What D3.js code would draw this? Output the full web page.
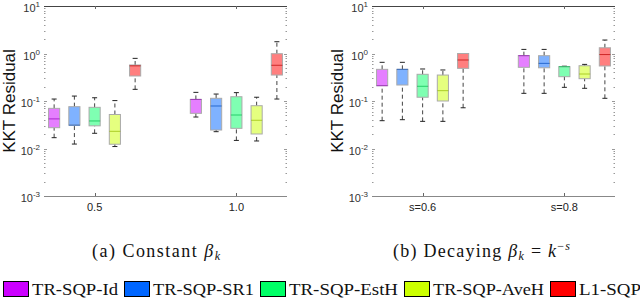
<!DOCTYPE html>
<html><head><meta charset="utf-8">
<script src="https://cdn.jsdelivr.net/npm/d3@7"></script>
<style>body{margin:0;background:#fff}svg{display:block}</style>
</head><body>
<svg id="c" width="640" height="300"></svg>
<script>
// ---------- data ----------
const methods = ["TR-SQP-Id", "TR-SQP-SR1", "TR-SQP-EstH", "TR-SQP-AveH", "L1-SQP"];
const colors = ["#cc00ff", "#0066ff", "#00ff66", "#ccff00", "#ff0000"];
const groupsA = ["0.5", "1.0"];
const groupsB = ["s=0.6", "s=0.8"];
const yTickExps = [1, 0, -1, -2, -3];
// each entry: [lower whisker, q1, median, q3, upper whisker]
const constBeta05 = [
  [0.0169, 0.0274, 0.042, 0.070, 0.110],
  [0.0124, 0.031, 0.031, 0.076, 0.127],
  [0.0209, 0.030, 0.038, 0.0736, 0.117],
  [0.011, 0.0123, 0.023, 0.052, 0.102],
  [0.176, 0.336, 0.55, 0.573, 0.79]
];
const constBeta10 = [
  [0.046, 0.055, 0.108, 0.108, 0.152],
  [0.0226, 0.0245, 0.0785, 0.114, 0.14],
  [0.0148, 0.0266, 0.0507, 0.123, 0.150],
  [0.0144, 0.0202, 0.0393, 0.0796, 0.120],
  [0.110, 0.352, 0.565, 0.99, 1.77]
];
const decay06 = [
  [0.0385, 0.21, 0.21, 0.464, 0.652],
  [0.0404, 0.217, 0.464, 0.464, 0.652],
  [0.0373, 0.12, 0.204, 0.365, 0.472],
  [0.0373, 0.10, 0.165, 0.352, 0.45],
  [0.072, 0.487, 0.73, 1.0, 1.0]
];
const decay08 = [
  [0.145, 0.512, 0.9, 0.9, 1.22],
  [0.145, 0.50, 0.62, 0.9, 1.22],
  [0.194, 0.325, 0.528, 0.528, 0.54],
  [0.185, 0.295, 0.37, 0.553, 0.59],
  [0.114, 0.546, 0.95, 1.32, 1.92]
];

// ---------- drawing ----------
const svg = d3.select("#c");
const yTop = 6, yBot = 196;
const y = d3.scaleLog().domain([1e-3, 10]).range([yBot, yTop]);

function panel(x0, x1, groupLabels, groupData) {
  const x = d3.scaleLinear().domain([0.5, 12.5]).range([x0, x1]);
  const g = svg.append("g");
  const minors = [];
  for (let e = -3; e < 1; e++) for (let m = 2; m <= 9; m++) minors.push(m * Math.pow(10, e));
  [x0, x1].forEach((xx, i) => {
    const dir = i === 0 ? 1 : -1;
    g.selectAll(null).data(minors).enter().append("line")
      .attr("x1", xx).attr("x2", xx + dir * 1.5)
      .attr("y1", d => Math.round(y(d)) + 0.5).attr("y2", d => Math.round(y(d)) + 0.5)
      .attr("stroke", "#999").attr("stroke-width", 1);
    g.selectAll(null).data(yTickExps.slice(1, 4)).enter().append("line")
      .attr("x1", xx).attr("x2", xx + dir * 3)
      .attr("y1", d => Math.round(y(Math.pow(10, d))) + 0.5).attr("y2", d => Math.round(y(Math.pow(10, d))) + 0.5)
      .attr("stroke", "#999").attr("stroke-width", 1);
  });
  g.append("line").attr("x1", x0).attr("x2", x1).attr("y1", yTop + 0.5).attr("y2", yTop + 0.5)
    .attr("stroke", "#444").attr("stroke-width", 1.2);
  g.append("line").attr("x1", x0).attr("x2", x1).attr("y1", yBot + 0.5).attr("y2", yBot + 0.5)
    .attr("stroke", "#888").attr("stroke-width", 1.2);
  const yl = g.selectAll(null).data(yTickExps).enter().append("text")
    .attr("x", x0 - 4).attr("y", d => y(Math.pow(10, d)) + 6)
    .attr("text-anchor", "end")
    .attr("font-family", "Liberation Sans, Arial, sans-serif")
    .attr("font-size", 11).attr("fill", "#333");
  yl.append("tspan").text("10");
  yl.append("tspan").attr("dy", -5).attr("font-size", 8).text(d => d < 0 ? "-" + (-d) : String(d));
  g.append("text")
    .attr("transform", `translate(${x0 - 29.5},101) rotate(-90)`)
    .attr("text-anchor", "middle")
    .attr("font-family", "Liberation Sans, Arial, sans-serif")
    .attr("font-size", 17).attr("fill", "#111")
    .text("KKT Residual");
  const groupCenters = [3, 10];
  groupCenters.forEach((c, i) => {
    const xx = Math.round(x(c)) + 0.5;
    g.append("line").attr("x1", xx).attr("x2", xx).attr("y1", yBot).attr("y2", yBot - 3).attr("stroke", "#666");
    g.append("line").attr("x1", xx).attr("x2", xx).attr("y1", yTop).attr("y2", yTop + 3).attr("stroke", "#666");
    g.append("text").attr("x", x(c)).attr("y", 211).attr("text-anchor", "middle")
      .attr("font-family", "Liberation Sans, Arial, sans-serif")
      .attr("font-size", 11).attr("fill", "#222").text(groupLabels[i]);
  });
  const bw = 0.55;
  groupData.forEach((data, gi) => {
    data.forEach((s, mi) => {
      const pos = gi * 7 + mi + 1;
      const cx = x(pos);
      const half = (x(pos + bw / 2) - x(pos - bw / 2)) / 2;
      const [lo, q1, med, q3, hi] = s;
      const col = colors[mi];
      [[lo, q1], [q3, hi]].forEach(([a, b]) => {
        if (Math.abs(y(a) - y(b)) > 0.5) g.append("line").attr("x1", cx).attr("x2", cx)
          .attr("y1", y(a)).attr("y2", y(b))
          .attr("stroke", "#444").attr("stroke-width", 1).attr("stroke-dasharray", "4,3");
      });
      [lo, hi].forEach(v => g.append("line").attr("x1", cx - 2.5).attr("x2", cx + 2.5)
        .attr("y1", y(v)).attr("y2", y(v)).attr("stroke", "#222").attr("stroke-width", 1));
      g.append("rect").attr("x", cx - half).attr("width", 2 * half)
        .attr("y", y(q3)).attr("height", Math.max(1, y(q1) - y(q3)))
        .attr("fill", col).attr("fill-opacity", 0.5)
        .attr("stroke", "#aaa").attr("stroke-width", 1);
      g.append("line").attr("x1", cx - half).attr("x2", cx + half)
        .attr("y1", y(med)).attr("y2", y(med))
        .attr("stroke", d3.color(col).darker(0.9)).attr("stroke-opacity", 0.7).attr("stroke-width", 1);
    });
  });
}

panel(44, 287, groupsA, [constBeta05, constBeta10]);
panel(372, 615, groupsB, [decay06, decay08]);

const serif = "Liberation Serif, Times New Roman, serif";
const capA = svg.append("text").attr("x", 92).attr("y", 257)
  .attr("font-family", serif).attr("font-size", 18).attr("fill", "#111")
  .attr("textLength", 128).attr("lengthAdjust", "spacing");
capA.append("tspan").text("(a) Constant ");
capA.append("tspan").attr("font-style", "italic").text("β");
capA.append("tspan").attr("font-style", "italic").attr("font-size", 12).attr("dy", 3).text("k");

const capB = svg.append("text").attr("x", 393).attr("y", 257)
  .attr("font-family", serif).attr("font-size", 18).attr("fill", "#111")
  .attr("textLength", 177).attr("lengthAdjust", "spacing");
capB.append("tspan").text("(b) Decaying ");
capB.append("tspan").attr("font-style", "italic").text("β");
capB.append("tspan").attr("font-style", "italic").attr("font-size", 12).attr("dy", 3).text("k");
capB.append("tspan").attr("dy", -3).text(" = ");
capB.append("tspan").attr("font-style", "italic").text("k");
capB.append("tspan").attr("font-size", 12).attr("dy", -7).text("−");
capB.append("tspan").attr("font-size", 12).attr("font-style", "italic").text("s");

// legend laid out sequentially
const legendTextW = [86, 101, 109, 111, 62];
const leg = svg.append("g");
let lx = 3;
methods.forEach((m, i) => {
  leg.append("rect").attr("x", lx + 0.5).attr("y", 281.5).attr("width", 25).attr("height", 15)
    .attr("fill", colors[i]).attr("stroke", "#000").attr("stroke-width", 1);
  leg.append("text").attr("x", lx + 29).attr("y", 295)
    .attr("font-family", serif).attr("font-size", 17).attr("fill", "#111")
    .attr("textLength", legendTextW[i]).attr("lengthAdjust", "spacingAndGlyphs").text(m);
  lx += 29 + legendTextW[i] + 6;
});
</script>
</body></html>
